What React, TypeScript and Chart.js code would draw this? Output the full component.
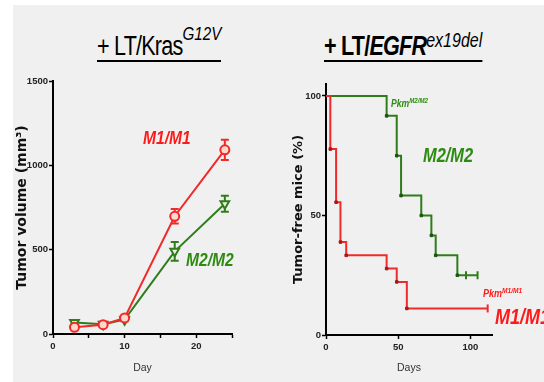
import React, { useEffect, useRef } from 'react';
import { Chart, registerables } from 'chart.js';

Chart.register(...registerables);

// ---- Tumor volume (left panel) ----
const volumeDays = [3, 7, 10, 17, 24];
const m1Volume = [40, 55, 95, 698, 1092];
const m1VolumeErr = [12, 12, 12, 43, 60];
const m2Volume = [68, 58, 85, 490, 772];
const m2VolumeErr = [10, 10, 10, 55, 47];
const volumeTickLabels = [0, 500, 1000, 1500];
const dayTickLabels = [0, 10, 20];

// ---- Tumor-free survival (right panel) ----
const m1KmDays = [0, 3, 7, 10, 14, 42, 49, 56, 112];
const m1KmPct = [100, 77.78, 55.56, 38.89, 33.33, 27.78, 22.22, 11.11, 11.11];
const m1KmCensored = [0, 0, 0, 0, 0, 0, 0, 0, 1];
const m2KmDays = [0, 42, 49, 52, 66, 73, 76, 91, 97, 105];
const m2KmPct = [100, 91.67, 75, 58.33, 50, 41.67, 33.33, 25, 25, 25];
const m2KmCensored = [0, 0, 0, 0, 0, 0, 0, 0, 1, 1];
const pctTickLabels = [0, 50, 100];
const daysTickLabels = [0, 50, 100];

const RED = '#f02a2a';
const DARK_RED = '#a81818';
const GREEN = '#2e7d1a';
const DARK_GREEN = '#1d5410';
const TEXT_RED = '#ff1a1a';
const TEXT_GREEN = '#2e8a12';
const NARROW = "'Liberation Sans Narrow', 'Liberation Sans', Arial, sans-serif";
const SQUEEZE = 0.82;

const errorBarPlugin = {
  id: 'errorBars',
  beforeDatasetsDraw(chart: any) {
    const ctx = chart.ctx;
    const yScale = chart.scales.y;
    chart.data.datasets.forEach((ds: any, di: number) => {
      if (!ds.errors) return;
      const meta = chart.getDatasetMeta(di);
      ctx.save();
      ctx.strokeStyle = ds.borderColor;
      ctx.lineWidth = 2;
      meta.data.forEach((pt: any, i: number) => {
        const v = ds.data[i].y;
        const e = ds.errors[i];
        const yt = yScale.getPixelForValue(v + e);
        const yb = yScale.getPixelForValue(v - e);
        ctx.beginPath();
        ctx.moveTo(pt.x, yt);
        ctx.lineTo(pt.x, yb);
        ctx.moveTo(pt.x - 4, yt);
        ctx.lineTo(pt.x + 4, yt);
        ctx.moveTo(pt.x - 4, yb);
        ctx.lineTo(pt.x + 4, yb);
        ctx.stroke();
      });
      ctx.restore();
    });
  },
};

const tickFont = { family: NARROW, size: 9.5, weight: 'bold' as const };
const axisGrid = {
  display: true,
  drawOnChartArea: false,
  drawTicks: true,
  tickLength: 4,
  tickWidth: 1.5,
  tickColor: '#000',
};
const axisBorder = { display: true, color: '#000', width: 2 };

function App() {
  const leftRef = useRef<HTMLCanvasElement>(null);
  const rightRef = useRef<HTMLCanvasElement>(null);

  useEffect(() => {
    const left = new Chart(leftRef.current as HTMLCanvasElement, {
      type: 'line',
      data: {
        datasets: [
          {
            label: 'M1/M1',
            data: volumeDays.map((d, i) => ({ x: d, y: m1Volume[i] })),
            errors: m1VolumeErr,
            borderColor: RED,
            borderWidth: 2,
            pointStyle: 'circle',
            pointRadius: 4.5,
            pointBorderWidth: 2,
            pointBackgroundColor: '#ffd9cc',
            pointBorderColor: RED,
          } as any,
          {
            label: 'M2/M2',
            data: volumeDays.map((d, i) => ({ x: d, y: m2Volume[i] })),
            errors: m2VolumeErr,
            borderColor: GREEN,
            borderWidth: 2,
            pointStyle: 'triangle',
            pointRotation: 180,
            pointRadius: 5,
            pointBorderWidth: 2,
            pointBackgroundColor: '#eef3e4',
            pointBorderColor: GREEN,
          } as any,
        ],
      },
      options: {
        animation: false,
        responsive: false,
        layout: { padding: { left: 0, top: 81, right: 40, bottom: 0 } },
        plugins: { legend: { display: false }, tooltip: { enabled: false } },
        scales: {
          x: {
            type: 'linear',
            min: 0,
            max: 25,
            afterFit: (s: any) => { s.height = 48; },
            ticks: {
              stepSize: 5,
              autoSkip: false,
              maxRotation: 0,
              padding: 3,
              color: '#222',
              font: tickFont,
              callback: (v: any) => (dayTickLabels.includes(v) ? String(v) : ''),
            },
            grid: axisGrid,
            border: axisBorder,
            title: {
              display: true,
              text: 'Day',
              color: '#333',
              font: { family: NARROW, size: 10.5 },
              padding: { top: 0, bottom: 8 },
            },
          },
          y: {
            min: 0,
            max: 1500,
            afterFit: (s: any) => { s.width = 53; },
            ticks: {
              stepSize: 500,
              padding: 1,
              color: '#222',
              font: tickFont,
              callback: (v: any) => (volumeTickLabels.includes(v) ? String(v) : ''),
            },
            grid: axisGrid,
            border: axisBorder,
            title: {
              display: true,
              text: 'Tumor volume (mm³)',
              color: '#111',
              font: { family: "'DejaVu Sans'", size: 14, weight: 'bold' },
              padding: { top: 14, bottom: 0 },
            },
          },
        },
      } as any,
      plugins: [errorBarPlugin],
    });

    const kmDataset = (label: string, days: number[], pct: number[], cens: number[], color: string, dark: string) => ({
      label,
      data: days.map((d, i) => ({ x: d, y: pct[i] })),
      stepped: 'before',
      borderColor: color,
      borderWidth: 2,
      pointStyle: days.map((_, i) => (cens[i] ? 'line' : 'rect')),
      pointRotation: days.map((_, i) => (cens[i] ? 90 : 0)),
      pointRadius: days.map((_, i) => (i === 0 ? 0 : cens[i] ? 4 : 1.8)),
      pointBorderWidth: days.map((_, i) => (cens[i] ? 2 : 1)),
      pointBorderColor: days.map((_, i) => (cens[i] ? color : dark)),
      pointBackgroundColor: dark,
    });

    const right = new Chart(rightRef.current as HTMLCanvasElement, {
      type: 'line',
      data: {
        datasets: [
          kmDataset('M1/M1', m1KmDays, m1KmPct, m1KmCensored, RED, DARK_RED) as any,
          kmDataset('M2/M2', m2KmDays, m2KmPct, m2KmCensored, GREEN, DARK_GREEN) as any,
        ],
      },
      options: {
        animation: false,
        responsive: false,
        layout: { padding: { left: 0, top: 84, right: 52, bottom: 0 } },
        plugins: { legend: { display: false }, tooltip: { enabled: false } },
        scales: {
          x: {
            type: 'linear',
            min: 0,
            max: 115,
            afterFit: (s: any) => { s.height = 47; },
            ticks: {
              stepSize: 50,
              includeBounds: false,
              autoSkip: false,
              maxRotation: 0,
              padding: 3,
              color: '#222',
              font: tickFont,
              callback: (v: any) => (daysTickLabels.includes(v) ? String(v) : ''),
            },
            grid: axisGrid,
            border: axisBorder,
            title: {
              display: true,
              text: 'Days',
              color: '#333',
              font: { family: NARROW, size: 10.5 },
              padding: { top: 0, bottom: 8 },
            },
          },
          y: {
            min: 0,
            max: 105,
            afterFit: (s: any) => { s.width = 54; },
            ticks: {
              stepSize: 50,
              includeBounds: false,
              padding: 1,
              color: '#222',
              font: tickFont,
              callback: (v: any) => (pctTickLabels.includes(v) ? String(v) : ''),
            },
            grid: axisGrid,
            border: axisBorder,
            title: {
              display: true,
              text: 'Tumor-free mice (%)',
              color: '#111',
              font: { family: "'DejaVu Sans'", size: 13, weight: 'bold' },
              padding: { top: 19, bottom: 0 },
            },
          },
        },
      } as any,
    });

    return () => {
      left.destroy();
      right.destroy();
    };
  }, []);

  const label = (left: number, cy: number, size: number, color: string, extra: React.CSSProperties = {}) =>
    ({
      position: 'absolute',
      left,
      top: cy,
      transform: `translateY(-50%) scaleX(${SQUEEZE})`,
      transformOrigin: 'left center',
      fontFamily: NARROW,
      fontSize: size,
      lineHeight: 1,
      fontWeight: 'bold',
      fontStyle: 'italic',
      color,
      whiteSpace: 'nowrap',
      ...extra,
    }) as React.CSSProperties;

  const sup = (size: number, rise: number, extra: React.CSSProperties = {}) =>
    ({ fontSize: size, position: 'relative', top: -rise, lineHeight: 0, ...extra }) as React.CSSProperties;

  const titleBox = (left: number, bold: boolean) =>
    ({
      position: 'absolute',
      left,
      top: 33,
      display: 'inline-block',
      fontFamily: NARROW,
      fontSize: 27,
      lineHeight: '27px',
      fontWeight: bold ? 'bold' : 'normal',
      color: '#000',
      borderBottom: '2px solid #000',
      whiteSpace: 'nowrap',
      transform: 'scaleX(0.8)',
      transformOrigin: 'left top',
    }) as React.CSSProperties;

  return (
    <div
      style={{
        position: 'fixed',
        left: 0,
        top: 0,
        width: 544,
        height: 382,
        background: '#ffffff',
        overflow: 'hidden',
      }}
    >
      <div style={{ position: 'absolute', left: 13, top: 5, right: 0, bottom: 0, background: '#f0f0f0' }} />

      <div style={titleBox(97, false)}>
        <span style={{ letterSpacing: -1 }}>+ LT/Kras</span>
        <span style={sup(19, 15, { fontStyle: 'italic' })}>G12V</span>
      </div>

      <div style={titleBox(324, true)}>
        <span style={{ letterSpacing: -1 }}>+ LT/</span>
        <span style={{ letterSpacing: -1, fontStyle: 'italic' }}>EGFR</span>
        <span style={sup(20, 8, { fontStyle: 'italic', fontWeight: 'normal' })}>ex19del</span>
      </div>

      <canvas
        ref={leftRef}
        width={272}
        height={382}
        style={{ position: 'absolute', left: 0, top: 0, width: 272, height: 382 }}
      />
      <canvas
        ref={rightRef}
        width={272}
        height={382}
        style={{ position: 'absolute', left: 272, top: 0, width: 272, height: 382 }}
      />

      <div style={label(143, 137, 19, TEXT_RED)}>M1/M1</div>
      <div style={label(186, 259, 19, TEXT_GREEN)}>M2/M2</div>

      <div style={label(391, 103, 10.5, TEXT_GREEN)}>
        Pkm<span style={sup(7.5, 4)}>M2/M2</span>
      </div>
      <div style={label(423, 155, 20, TEXT_GREEN)}>M2/M2</div>
      <div style={label(483, 293, 11, TEXT_RED)}>
        Pkm<span style={sup(8, 4)}>M1/M1</span>
      </div>
      <div style={label(495, 317, 22, TEXT_RED)}>M1/M1</div>
    </div>
  );
}

export default App;
